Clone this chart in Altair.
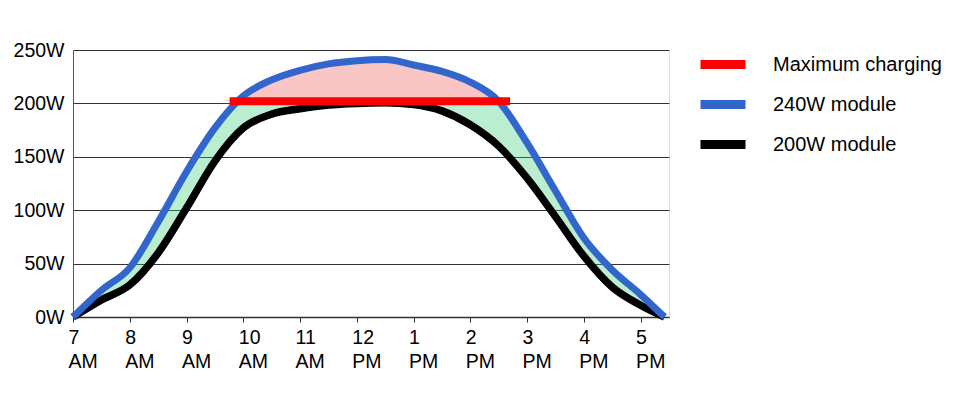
import altair as alt
import pandas as pd

# ---- data ----
hours = [7, 7.5, 8, 8.5, 9, 9.5, 10, 10.5, 11, 11.5, 12, 12.5, 13, 13.5,
         14, 14.5, 15, 15.5, 16, 16.5, 17, 17.42]
w240 = [0, 25, 46, 89, 136, 177, 207, 222, 231, 237, 240, 241, 236, 230,
        220, 202, 163, 118, 74, 44, 21, 0]
w200 = [0, 16, 30, 60, 102, 146, 177, 190, 195, 198.5, 200, 200.5, 199, 193,
        180, 160, 130, 94, 57, 28, 11, 0]
max_hours = [9.76, 14.7]
max_watts = [202, 202]

tick_hours = [7, 8, 9, 10, 11, 12, 13, 14, 15, 16, 17]
tick_top = ["7", "8", "9", "10", "11", "12", "1", "2", "3", "4", "5"]
tick_bottom = ["AM", "AM", "AM", "AM", "AM", "PM", "PM", "PM", "PM", "PM", "PM"]
y_ticks = [0, 50, 100, 150, 200, 250]

series_names = ["Maximum charging", "240W module", "200W module"]
series_colors = ["#ff0000", "#3366cc", "#000000"]

FONT = "Liberation Sans"

# ---- tables ----
cap = max_watts[0]
curves = pd.DataFrame({"hour": hours, "w240": w240, "w200": w200})
curves["green_top"] = [min(b, cap) for b in w240]
curves["red_top"] = [max(b, cap) for b in w240]
curves["cap"] = cap

lines_240 = pd.DataFrame({"hour": hours, "watts": w240, "series": series_names[1]})
lines_200 = pd.DataFrame({"hour": hours, "watts": w200, "series": series_names[2]})
lines_max = pd.DataFrame({"hour": max_hours, "watts": max_watts, "series": series_names[0]})

# label expression for two-line x labels
expr = "''"
for h, a, b in reversed(list(zip(tick_hours, tick_top, tick_bottom))):
    expr = f"datum.value == {h} ? ['{a}', '{b}'] : " + expr

x_scale = alt.Scale(domain=[7, 17.5], nice=False, zero=False)
y_scale = alt.Scale(domain=[0, 250], nice=False)
color_scale = alt.Scale(domain=series_names, range=series_colors)

x_enc = alt.X("hour:Q", scale=x_scale, axis=alt.Axis(
    values=tick_hours, labelExpr=expr, title=None, grid=False,
    labelAlign="left", labelOffset=-5, labelBaseline="top",
    labelPadding=6, labelLineHeight=24, labelFontSize=19.5,
    labelFont=FONT, labelColor="#000000", tickSize=5, tickColor="#333333",
    domainColor="#333333", domainWidth=1.5))

y_axis = alt.Axis(values=y_ticks, labelExpr="datum.label + 'W'", title=None,
                  grid=True, gridColor="#333333", gridWidth=1,
                  tickSize=0, labelPadding=9, labelFontSize=19.5,
                  labelFont=FONT, labelColor="#000000",
                  domainColor="#555555", domainWidth=1)

base = alt.Chart(curves)

green = base.mark_area(color="#2ecc71", opacity=0.33, interpolate="monotone").encode(
    x=x_enc,
    y=alt.Y("w200:Q", scale=y_scale, axis=y_axis),
    y2="green_top:Q",
)

red = base.mark_area(color="#f05050", opacity=0.33, interpolate="monotone").encode(
    x="hour:Q",
    y=alt.Y("cap:Q"),
    y2="red_top:Q",
)

legend = alt.Legend(
    title=None, orient="none", legendX=635.5, legendY=0,
    symbolType="M-2.25,0L2.25,0", symbolSize=400, symbolStrokeWidth=9,
    labelFontSize=20, labelFont=FONT, labelColor="#000000",
    labelOffset=35.5, rowPadding=3, labelLimit=0,
)

def line_layer(df, width):
    return alt.Chart(df).mark_line(strokeWidth=width, interpolate="monotone").encode(
        x="hour:Q",
        y="watts:Q",
        color=alt.Color("series:N", scale=color_scale, legend=legend,
                        sort=series_names),
    )

chart = alt.layer(
    green, red,
    line_layer(lines_200, 7.5),
    line_layer(lines_240, 7),
    line_layer(lines_max, 8),
).properties(
    width=596, height=267,
    padding={"left": 5, "top": 32, "right": 5, "bottom": 5},
).configure_view(stroke=None).configure(background="#ffffff")

chart.save("out.html", embed_options={"renderer": "svg", "actions": False})
